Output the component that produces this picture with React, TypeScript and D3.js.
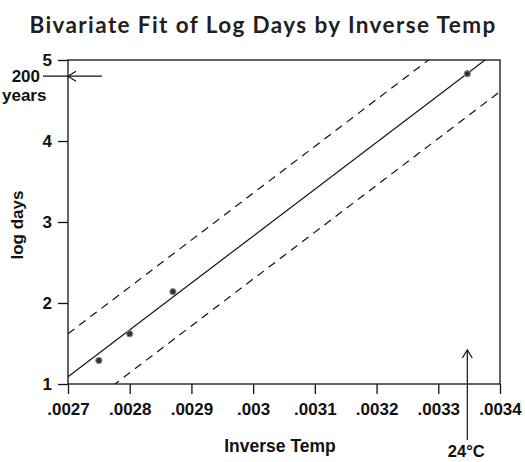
import * as d3 from "d3";
import React, { useEffect, useRef } from "react";

// observed points (inverse temp, log days)
const inverseTemp = [0.00275, 0.0028, 0.00287, 0.003347];
const logDays = [1.29, 1.62, 2.14, 4.83];

// fit and prediction band, as end points at the x-domain edges
const lineX = [0.0027, 0.0034];
const fitY = [1.09, 5.14];
const upperY = [1.62, 5.67];
const lowerY = [0.56, 4.61];

const xTicks = [0.0027, 0.0028, 0.0029, 0.003, 0.0031, 0.0032, 0.0033, 0.0034];
const xTickLabels = [".0027", ".0028", ".0029", ".003", ".0031", ".0032", ".0033", ".0034"];
const yTicks = [1, 2, 3, 4, 5];

const App = () => {
    const svgRef = useRef<SVGSVGElement>(null);

    useEffect(() => {
        const width = 525;
        const height = 462;
        const left = 68, right = 500, top = 60, bottom = 384;
        const axisFont = "'Liberation Sans', Arial, sans-serif";

        const svg = d3.select(svgRef.current);
        svg.selectAll("*").remove();
        svg.attr("width", width).attr("height", height);

        const x = d3.scaleLinear().domain([0.0027, 0.0034]).range([left, right]);
        const y = d3.scaleLinear().domain([1, 5]).range([bottom, top]);

        const label = (sel: any, size: number) => sel
            .style("font-family", axisFont)
            .style("font-weight", 700)
            .style("font-size", `${size}px`)
            .style("fill", "#111");

        // Title
        svg.append("text")
            .attr("x", 263)
            .attr("y", 33)
            .attr("text-anchor", "middle")
            .style("font-family", "Lato, 'Open Sans', sans-serif")
            .style("font-weight", 700)
            .style("font-size", "22.5px")
            .style("letter-spacing", "1.4px")
            .style("fill", "#231f20")
            .text("Bivariate Fit of Log Days by Inverse Temp");

        svg.append("defs").append("clipPath")
            .attr("id", "plot-clip")
            .append("rect")
            .attr("x", left).attr("y", top)
            .attr("width", right - left).attr("height", bottom - top);

        const plot = svg.append("g").attr("clip-path", "url(#plot-clip)");

        const line = d3.line<[number, number]>()
            .x(d => x(d[0]))
            .y(d => y(d[1]));

        const drawLine = (ys: number[], dashed: boolean) => {
            plot.append("path")
                .datum(lineX.map((v, i) => [v, ys[i]] as [number, number]))
                .attr("fill", "none")
                .attr("stroke", "#111")
                .attr("stroke-width", 1.2)
                .attr("stroke-dasharray", dashed ? "8,6" : null)
                .attr("d", line);
        };
        drawLine(upperY, true);
        drawLine(fitY, false);
        drawLine(lowerY, true);

        // points
        plot.selectAll(".pt")
            .data(inverseTemp)
            .enter()
            .append("circle")
            .attr("class", "pt")
            .attr("cx", d => x(d))
            .attr("cy", (d, i) => y(logDays[i]))
            .attr("r", 3.2)
            .attr("fill", "#333")
            .attr("stroke", "#999")
            .attr("stroke-width", 1);

        // frame
        svg.append("rect")
            .attr("x", left).attr("y", top)
            .attr("width", right - left).attr("height", bottom - top)
            .attr("fill", "none")
            .attr("stroke", "#111")
            .attr("stroke-width", 1.3);

        // x axis
        const xAxis = svg.append("g")
            .attr("transform", `translate(0,${bottom})`)
            .call(d3.axisBottom(x).tickValues(xTicks)
                .tickFormat((d, i) => xTickLabels[i])
                .tickSize(10).tickPadding(9));
        xAxis.select(".domain").remove();
        xAxis.selectAll("line").attr("stroke", "#111").attr("stroke-width", 1.3);
        label(xAxis.selectAll("text"), 17);

        // y axis
        const yAxis = svg.append("g")
            .attr("transform", `translate(${left},0)`)
            .call(d3.axisLeft(y).tickValues(yTicks)
                .tickFormat(d3.format("d"))
                .tickSize(10).tickPadding(6));
        yAxis.select(".domain").remove();
        yAxis.selectAll("line").attr("stroke", "#111").attr("stroke-width", 1.3);
        label(yAxis.selectAll("text"), 17);

        // axis titles
        label(svg.append("text"), 17.5)
            .attr("x", 280)
            .attr("y", 452)
            .attr("text-anchor", "middle")
            .text("Inverse Temp");

        label(svg.append("text"), 17)
            .attr("transform", "translate(23,225) rotate(-90)")
            .attr("text-anchor", "middle")
            .text("log days");

        // 200 years annotation
        const yr = y(4.8);
        svg.append("line")
            .attr("x1", 43).attr("x2", 102)
            .attr("y1", yr).attr("y2", yr)
            .attr("stroke", "#111").attr("stroke-width", 1.2);
        svg.append("path")
            .attr("d", `M${left + 8},${yr - 5} L${left},${yr} L${left + 8},${yr + 5}`)
            .attr("fill", "none")
            .attr("stroke", "#111").attr("stroke-width", 1.2);
        label(svg.append("text"), 17)
            .attr("x", 40).attr("y", yr + 6)
            .attr("text-anchor", "end")
            .text("200");
        label(svg.append("text"), 17)
            .attr("x", 2).attr("y", yr + 25)
            .text("years");

        // 24°C annotation
        const tx = x(0.003347);
        svg.append("line")
            .attr("x1", tx).attr("x2", tx)
            .attr("y1", 350).attr("y2", 440)
            .attr("stroke", "#111").attr("stroke-width", 1.2);
        svg.append("path")
            .attr("d", `M${tx - 5},${358} L${tx},${350} L${tx + 5},${358}`)
            .attr("fill", "none")
            .attr("stroke", "#111").attr("stroke-width", 1.2);
        label(svg.append("text"), 16.5)
            .attr("x", tx - 1).attr("y", 457)
            .attr("text-anchor", "middle")
            .text("24°C");
    }, []);

    return <svg ref={svgRef} style={{ position: "absolute", left: 0, top: 0 }} />;
};

export default App;
